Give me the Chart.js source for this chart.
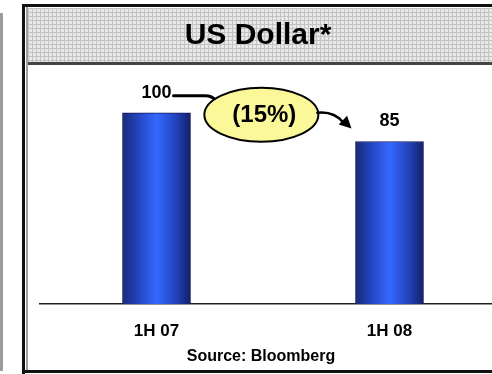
<!DOCTYPE html>
<html>
<head>
<meta charset="utf-8">
<script src="https://cdn.jsdelivr.net/npm/chart.js@4"></script>
<style>
  html, body { margin: 0; padding: 0; background: #fff; }
  #clip { width: 492px; height: 374px; overflow: hidden; }
  #wrap { position: relative; width: 506px; height: 374px; }
</style>
</head>
<body>
<div id="clip"><div id="wrap"><canvas id="usd"></canvas></div></div>
<script>
// US dollar index, first half of each year
const periods = ['1H 07', '1H 08'];
const dollarIndex = [100, 85];
const changeLabel = '(15%)';
const chartTitle = 'US Dollar*';
const sourceNote = 'Source: Bloomberg';

const FONT = "'Liberation Sans', Arial, sans-serif";

// grey hatched fill for the heading strip
function hatchPattern(ctx) {
    const c = document.createElement('canvas');
    c.width = 4; c.height = 4;
    const p = c.getContext('2d');
    p.fillStyle = '#e6e6e6';
    p.fillRect(0, 0, 4, 4);
    p.fillStyle = '#c4c4c4';
    p.fillRect(0, 0, 4, 1);
    p.fillRect(0, 0, 1, 4);
    p.fillStyle = '#f6f6f6';
    p.fillRect(2, 2, 1, 1);
    return ctx.createPattern(c, 'repeat');
}

const framePlugin = {
    id: 'frame',
    beforeDraw(chart) {
        const ctx = chart.ctx;
        const W = chart.width, H = chart.height;
        ctx.save();
        ctx.fillStyle = '#fff';
        ctx.fillRect(0, 0, W, H);

        // neighbouring panel edge
        ctx.fillStyle = '#9c9c9c';
        ctx.fillRect(0, 13, 3, H - 16);

        // heading strip
        ctx.fillStyle = hatchPattern(ctx);
        ctx.fillRect(27, 8, W - 27, 54);
        ctx.fillStyle = '#444';
        ctx.fillRect(27, 62, W - 27, 3);

        // outer frame
        ctx.fillStyle = '#111';
        ctx.fillRect(22, 4, W - 22, 3);
        ctx.fillRect(22, 4, 3, H - 4);
        ctx.fillRect(22, 370, W - 22, 3);
        ctx.fillStyle = '#a0a0a0';
        ctx.fillRect(26, 7, 2, 363);

        ctx.fillStyle = '#000';
        ctx.textAlign = 'center';
        ctx.textBaseline = 'middle';
        ctx.font = 'bold 30px ' + FONT;
        ctx.fillText(chartTitle, 258, 36);
        ctx.font = 'bold 16px ' + FONT;
        ctx.fillText(sourceNote, 261, 357);
        ctx.restore();
    },
    afterDatasetsDraw(chart) {
        const ctx = chart.ctx;
        const bars = chart.getDatasetMeta(0).data;
        const b0 = bars[0], b1 = bars[1];
        ctx.save();

        // value labels above the bars
        ctx.fillStyle = '#000';
        ctx.textAlign = 'center';
        ctx.textBaseline = 'middle';
        ctx.font = 'bold 18px ' + FONT;
        bars.forEach((b, i) => ctx.fillText(String(dollarIndex[i]), b.x, b.y - 20));

        // change bubble between the two bars
        const cx = b0.x + (b1.x - b0.x) * 0.45;
        const cy = b0.y + 2;
        const rx = 57, ry = 27;

        // leader from the first value label into the bubble
        const lx = b0.x + 17, ly = b0.y - 17;
        ctx.strokeStyle = '#000';
        ctx.lineWidth = 3;
        ctx.lineCap = 'round';
        ctx.beginPath();
        ctx.moveTo(lx, ly);
        ctx.lineTo(cx - 56, ly);
        ctx.quadraticCurveTo(cx - 50, ly, cx - 46, cy - 15);
        ctx.stroke();

        ctx.beginPath();
        ctx.ellipse(cx, cy, rx, ry, 0, 0, Math.PI * 2);
        ctx.fillStyle = '#fbf89a';
        ctx.fill();
        ctx.lineWidth = 2;
        ctx.stroke();

        ctx.fillStyle = '#000';
        ctx.font = 'bold 24px ' + FONT;
        ctx.fillText(changeLabel, cx + 3, cy + 1);

        // arrow towards the second bar
        const sx = cx + rx - 1, sy = cy - 2;
        const tx = b1.x - 38, ty = b1.y - 13;
        ctx.lineWidth = 2.5;
        ctx.beginPath();
        ctx.moveTo(sx, sy);
        ctx.quadraticCurveTo(sx + 16, sy - 2, tx - 8, ty - 6);
        ctx.stroke();
        const ang = Math.atan2(ty - (sy - 2), tx - (sx + 16));
        const len = 12, half = 6;
        ctx.beginPath();
        ctx.moveTo(tx, ty);
        ctx.lineTo(tx - len * Math.cos(ang) + half * Math.sin(ang), ty - len * Math.sin(ang) - half * Math.cos(ang));
        ctx.lineTo(tx - len * Math.cos(ang) - half * Math.sin(ang), ty - len * Math.sin(ang) + half * Math.cos(ang));
        ctx.closePath();
        ctx.fill();
        ctx.restore();
    }
};

function barFill(context) {
    const chart = context.chart;
    if (!chart.chartArea) return '#2c55e0';
    const x = chart.scales.x.getPixelForValue(context.dataIndex);
    const g = chart.ctx.createLinearGradient(x - 34, 0, x + 34, 0);
    g.addColorStop(0, '#172a78');
    g.addColorStop(0.2, '#2241b8');
    g.addColorStop(0.5, '#3568ff');
    g.addColorStop(0.8, '#2241b8');
    g.addColorStop(1, '#111f66');
    return g;
}

new Chart(document.getElementById('usd'), {
    type: 'bar',
    data: {
        labels: periods,
        datasets: [{
            data: dollarIndex,
            backgroundColor: barFill,
            borderColor: '#14185a',
            borderWidth: 1,
            barThickness: 68
        }]
    },
    options: {
        responsive: true,
        maintainAspectRatio: false,
        devicePixelRatio: 1,
        animation: false,
        layout: { padding: { left: 40, right: 0, top: 65, bottom: 20 } },
        plugins: {
            legend: { display: false },
            tooltip: { enabled: false }
        },
        scales: {
            x: {
                afterFit(scale) { scale.height = 50; },
                grid: { display: false, drawTicks: false },
                border: { display: true, color: '#222', width: 1.5 },
                ticks: {
                    padding: 17,
                    color: '#000',
                    font: { family: FONT, size: 17, weight: 'bold' },
                    maxRotation: 0,
                    autoSkip: false
                }
            },
            y: {
                display: false,
                min: 0,
                max: 125
            }
        }
    },
    plugins: [framePlugin]
});
</script>
</body>
</html>
